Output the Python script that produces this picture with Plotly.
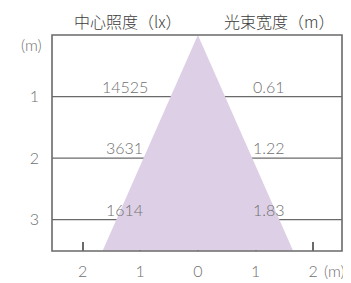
import plotly.graph_objects as go

# Data
depths = [1, 2, 3]
illuminance = [14525, 3631, 1614]
beam_width = [0.61, 1.22, 1.83]
x_ticks = [-2, -1, 0, 1, 2]
x_tick_text = ["2", "1", "0", "1", "2"]
y_ticks = [1, 2, 3]
y_tick_text = ["1", "2", "3"]
cone_x = [0, -1.65, 1.65, 0]
cone_y = [0, 3.5, 3.5, 0]
title_left = "中心照度（lx）"
title_right = "光束宽度（m）"

TXT = "#707070"
LINE = "#6a6a6a"
FONT = "Lato"

fig = go.Figure()
fig.add_trace(go.Scatter(x=cone_x, y=cone_y, fill="toself", mode="lines",
                         fillcolor="#DDD0E6", line=dict(width=0), hoverinfo="skip",
                         showlegend=False))

shapes = []
for d in depths:
    shapes.append(dict(type="line", xref="paper", yref="y", x0=0, x1=1, y0=d, y1=d,
                       line=dict(color=LINE, width=1.2), layer="below"))
shapes.append(dict(type="rect", xref="paper", yref="paper", x0=0, x1=1, y0=0, y1=1,
                   line=dict(color=LINE, width=1.6), layer="above"))

vfont = dict(family=FONT, size=16, color=TXT, weight=300)
ann = []
for d, v, w in zip(depths, illuminance, beam_width):
    ann.append(dict(x=-1.27, y=d - 0.17, text=str(v), showarrow=False, xref="x", yref="y",
                    xanchor="center", yanchor="middle", font=vfont))
    ann.append(dict(x=1.23, y=d - 0.17, text=f"{w:.2f}", showarrow=False, xref="x", yref="y",
                    xanchor="center", yanchor="middle", font=vfont))
tfont = dict(family="Noto Sans CJK SC", size=16, color="#3c3c3c", weight=300)
ann.append(dict(x=-1.22, y=1.0, yshift=14, xanchor="center", yanchor="middle", text=title_left,
                showarrow=False, xref="x", yref="paper", font=tfont))
ann.append(dict(x=1.40, y=1.0, yshift=14, xanchor="center", yanchor="middle", text=title_right,
                showarrow=False, xref="x", yref="paper", font=tfont))
ann.append(dict(x=0, xshift=-21, y=0.16, xref="paper", yref="y", text="(m)", showarrow=False,
                xanchor="center", yanchor="middle", font=vfont))
ann.append(dict(x=2, xshift=21, y=0, yshift=-19, xref="x", yref="paper", text="(m)", showarrow=False,
                xanchor="center", yanchor="middle", font=vfont))

fig.update_layout(
    width=343, height=275,
    margin=dict(l=44, r=8.5, t=27, b=32, autoexpand=False),
    paper_bgcolor="white", plot_bgcolor="white",
    shapes=shapes, annotations=ann,
    xaxis=dict(range=[-2.53, 2.5], tickvals=x_ticks, ticktext=x_tick_text,
               ticks="inside", ticklen=9, tickwidth=1.5, tickcolor=LINE,
               showgrid=False, zeroline=False, showline=False, layer="below traces",
               tickfont=vfont, ticklabelstandoff=9, fixedrange=True, automargin=False),
    yaxis=dict(range=[3.51, 0], tickvals=y_ticks, ticktext=y_tick_text,
               ticks="", showgrid=False, zeroline=False, showline=False,
               tickfont=vfont, ticklabelstandoff=12, fixedrange=True, automargin=False),
)

fig.write_html("out.html")
